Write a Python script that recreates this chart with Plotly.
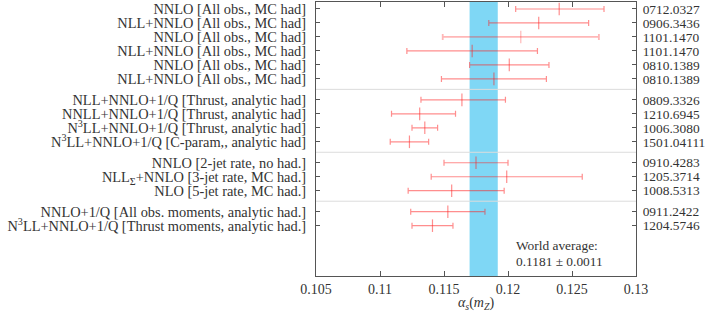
import plotly.graph_objects as go

# ---- data ----
labels = [
    "NNLO [All obs., MC had]",
    "NLL+NNLO [All obs., MC had]",
    "NNLO [All obs., MC had]",
    "NLL+NNLO [All obs., MC had]",
    "NNLO [All obs., MC had]",
    "NLL+NNLO [All obs., MC had]",
    "NLL+NNLO+1/Q [Thrust, analytic had]",
    "NNLL+NNLO+1/Q [Thrust, analytic had]",
    "N<sup>3</sup>LL+NNLO+1/Q [Thrust, analytic had]",
    "N<sup>3</sup>LL+NNLO+1/Q [C-param,, analytic had]",
    "NNLO [2-jet rate, no had.]",
    "NLL<sub>Σ</sub>+NNLO [3-jet rate, MC had.]",
    "NLO [5-jet rate, MC had.]",
    "NNLO+1/Q [All obs. moments, analytic had.]",
    "N<sup>3</sup>LL+NNLO+1/Q [Thrust moments, analytic had.]",
]
arxiv = [
    "0712.0327", "0906.3436", "1101.1470", "1101.1470", "0810.1389", "0810.1389",
    "0809.3326", "1210.6945", "1006.3080", "1501.04111",
    "0910.4283", "1205.3714", "1008.5313",
    "0911.2422", "1204.5746",
]
row_pos = [0, 1, 2, 3, 4, 5, 6.5, 7.5, 8.5, 9.5, 11, 12, 13, 14.5, 15.5]
alpha_s = [0.1240, 0.1224, 0.1210, 0.1172, 0.1201, 0.1189,
           0.1164, 0.1131, 0.1135, 0.1123,
           0.1175, 0.1199, 0.1156,
           0.1153, 0.1141]
err_plus = [0.0035, 0.0039, 0.0061, 0.0051, 0.0031, 0.0041,
            0.0034, 0.0028, 0.0010, 0.0015,
            0.0025, 0.0059, 0.0041,
            0.0029, 0.0016]
err_minus = [0.0034, 0.0039, 0.0061, 0.0051, 0.0031, 0.0041,
             0.0032, 0.0022, 0.0010, 0.0015,
             0.0025, 0.0059, 0.0034,
             0.0029, 0.0016]
separators = [5.75, 10.25, 13.75]
world_avg = 0.1181
world_err = 0.0011
x_ticks = [0.105, 0.11, 0.115, 0.12, 0.125, 0.13]
x_ticktext = ["0.105", "0.11", "0.115", "0.12", "0.125", "0.13"]

FONT = "Liberation Serif"
AXC = "#555555"
TXT = "#333333"

fig = go.Figure()

red = "rgba(255,30,30,0.5)"
colors = [red] * len(alpha_s)
colors[2] = "rgba(255,30,30,0.32)"

for i in range(len(alpha_s)):
    fig.add_trace(go.Scatter(
        x=[alpha_s[i]], y=[row_pos[i]], mode="markers",
        marker=dict(symbol="line-ns", size=9, line=dict(color=colors[i], width=1.2)),
        error_x=dict(type="data", symmetric=False, array=[err_plus[i]],
                     arrayminus=[err_minus[i]], color=colors[i],
                     thickness=1.8 if i == 2 else 1.2, width=3),
        showlegend=False, hoverinfo="skip",
    ))

# invisible trace for right axis
fig.add_trace(go.Scatter(x=[world_avg], y=[row_pos[0]], yaxis="y2", mode="markers",
                         marker=dict(opacity=0), showlegend=False, hoverinfo="skip"))

shapes = [dict(type="rect", xref="x", yref="paper", x0=world_avg - world_err,
               x1=world_avg + world_err, y0=0, y1=1, fillcolor="#7fd7f5",
               line=dict(width=0), layer="below")]
for s in separators:
    shapes.append(dict(type="line", xref="paper", yref="y", x0=0, x1=1, y0=s, y1=s,
                       line=dict(color="#dcdcdc", width=1), layer="below"))

yrange = [19.1, -0.5]

fig.update_layout(
    width=706, height=312,
    margin=dict(l=316, r=69, t=1, b=34),
    paper_bgcolor="white", plot_bgcolor="white",
    font=dict(family=FONT, size=13, color=TXT),
    shapes=shapes,
    xaxis=dict(range=[0.105, 0.13], tickvals=x_ticks, ticktext=x_ticktext,
               showgrid=False, zeroline=False, showline=True, linecolor=AXC, linewidth=1,
               mirror="ticks", ticks="inside", ticklen=5, tickcolor=AXC,
               tickfont=dict(family=FONT, size=14, color=TXT),
               title=dict(text="<i>α<sub>s</sub></i>(<i>m<sub>Z</sub></i>)",
                          font=dict(family=FONT, size=14, color=TXT), standoff=4)),
    yaxis=dict(range=yrange, tickvals=row_pos, ticktext=labels,
               showgrid=False, zeroline=False, showline=True, linecolor=AXC, linewidth=1,
               ticks="inside", ticklen=4, tickcolor=AXC, ticklabelstandoff=6,
               tickfont=dict(family=FONT, size=14.4, color=TXT)),
    yaxis2=dict(range=yrange, tickvals=row_pos, ticktext=arxiv, overlaying="y",
                side="right", anchor="x",
                showgrid=False, zeroline=False, showline=True, linecolor=AXC, linewidth=1,
                ticks="inside", ticklen=4, tickcolor=AXC, ticklabelstandoff=3,
                tickfont=dict(family=FONT, size=13.4, color=TXT)),
    annotations=[
        dict(x=0.12045, y=16.9, xref="x", yref="y", text="World average:",
             showarrow=False, xanchor="left", yanchor="middle",
             font=dict(family=FONT, size=13.4, color=TXT)),
        dict(x=0.12045, y=18.05, xref="x", yref="y", text="0.1181 ± 0.0011",
             showarrow=False, xanchor="left", yanchor="middle",
             font=dict(family=FONT, size=13.4, color=TXT)),
    ],
)

fig.write_html("out.html", config={"displayModeBar": False},
               post_script="document.body.style.margin='0';")
